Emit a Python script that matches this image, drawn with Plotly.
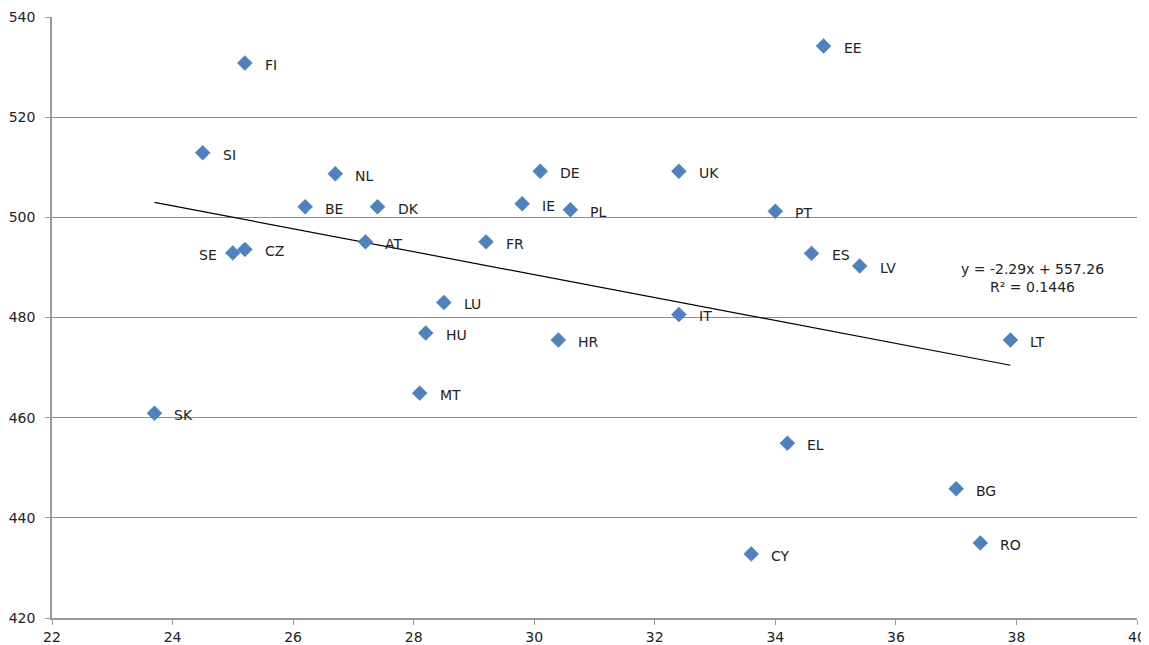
import plotly.graph_objects as go

countries = ['FI', 'EE', 'SI', 'NL', 'DE', 'UK', 'BE', 'DK', 'IE', 'PL', 'PT', 'AT', 'FR',
             'SE', 'CZ', 'ES', 'LV', 'LU', 'IT', 'HU', 'HR', 'LT', 'MT', 'SK', 'EL', 'BG',
             'RO', 'CY']
x_vals = [25.2, 34.8, 24.5, 26.7, 30.1, 32.4, 26.2, 27.4, 29.8, 30.6, 34.0, 27.2, 29.2,
          25.0, 25.2, 34.6, 35.4, 28.5, 32.4, 28.2, 30.4, 37.9, 28.1, 23.7, 34.2, 37.0,
          37.4, 33.6]
y_vals = [530.8, 534.2, 512.9, 508.7, 509.2, 509.2, 502.1, 502.1, 502.7, 501.5, 501.2, 495.1, 495.1,
          492.9, 493.6, 492.8, 490.3, 483.0, 480.6, 476.9, 475.5, 475.5, 464.9, 460.9, 454.9, 445.8,
          435.0, 432.8]

# linear trend shown in the chart
trend_slope = -2.29
trend_intercept = 557.26
trend_r2 = 0.1446

font_name = "Verdana, DejaVu Sans, sans-serif"

fig = go.Figure()

x0, x1 = min(x_vals), max(x_vals)
fig.add_trace(go.Scatter(
    x=[x0, x1],
    y=[trend_slope * x0 + trend_intercept, trend_slope * x1 + trend_intercept],
    mode='lines', line=dict(color='black', width=1.2),
    hoverinfo='skip', showlegend=False))

fig.add_trace(go.Scatter(
    x=x_vals, y=y_vals, mode='markers', text=countries,
    marker=dict(symbol='diamond', size=11.5, color='#4F81BD',
                line=dict(color='#4A7EBB', width=0.5)),
    showlegend=False))

for c, xv, yv in zip(countries, x_vals, y_vals):
    if c == 'SE':
        fig.add_annotation(x=xv, y=yv, text=c, showarrow=False, xanchor='right',
                           xshift=-14, yshift=-2)
    else:
        fig.add_annotation(x=xv, y=yv, text=c, showarrow=False, xanchor='left',
                           xshift=18, yshift=-2)

fig.add_annotation(x=38.27, y=487.9, showarrow=False, align='center',
                   text=f"y = {trend_slope}x + {trend_intercept}<br>R² = {trend_r2}")

# page body adds an 8px offset, margins compensate for it
fig.update_layout(
    width=1149, height=645,
    margin=dict(l=44, r=20, t=9, b=35),
    paper_bgcolor='white', plot_bgcolor='white',
    font=dict(family=font_name, size=14, color='#222222'),
)
fig.update_xaxes(range=[22, 40], dtick=2, showgrid=False, showline=True, automargin=False,
                 linecolor='#9A9A9A', linewidth=1.5, ticks='outside', ticklen=5,
                 tickcolor='#9A9A9A', zeroline=False, tickfont=dict(size=14))
fig.update_yaxes(range=[420, 540], dtick=20, showgrid=True, gridcolor='#8C8C8C',
                 gridwidth=1, showline=True, linecolor='#9A9A9A', linewidth=1.5,
                 automargin=False, ticklabelstandoff=7,
                 ticks='outside', ticklen=5, tickcolor='#9A9A9A', zeroline=False,
                 tickfont=dict(size=14))

fig.write_html("out.html")
